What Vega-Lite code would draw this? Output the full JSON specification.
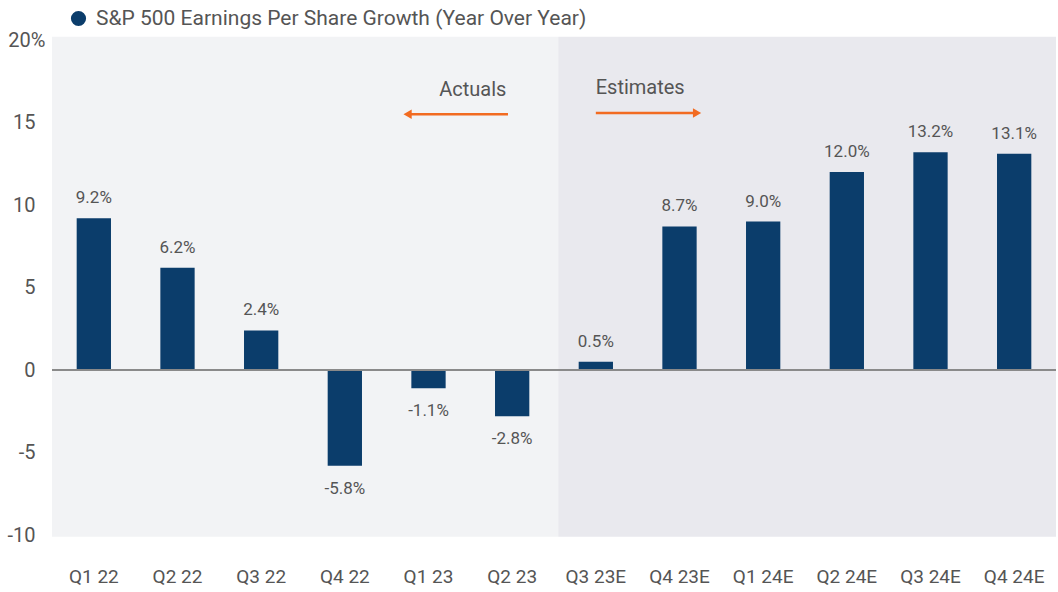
{
  "$schema": "https://vega.github.io/schema/vega-lite/v6.json",
  "width": 1004,
  "height": 495,
  "autosize": {"type": "none"},
  "padding": {"left": 52, "top": 40, "right": 2, "bottom": 57},
  "background": "#ffffff",
  "config": {"font": "Roboto", "view": {"stroke": null}},
  "datasets": {
    "eps": [
      {"quarter": "Q1 22", "value": 9.2, "label": "9.2%", "series": "S&P 500 Earnings Per Share Growth (Year Over Year)"},
      {"quarter": "Q2 22", "value": 6.2, "label": "6.2%", "series": "S&P 500 Earnings Per Share Growth (Year Over Year)"},
      {"quarter": "Q3 22", "value": 2.4, "label": "2.4%", "series": "S&P 500 Earnings Per Share Growth (Year Over Year)"},
      {"quarter": "Q4 22", "value": -5.8, "label": "-5.8%", "series": "S&P 500 Earnings Per Share Growth (Year Over Year)"},
      {"quarter": "Q1 23", "value": -1.1, "label": "-1.1%", "series": "S&P 500 Earnings Per Share Growth (Year Over Year)"},
      {"quarter": "Q2 23", "value": -2.8, "label": "-2.8%", "series": "S&P 500 Earnings Per Share Growth (Year Over Year)"},
      {"quarter": "Q3 23E", "value": 0.5, "label": "0.5%", "series": "S&P 500 Earnings Per Share Growth (Year Over Year)"},
      {"quarter": "Q4 23E", "value": 8.7, "label": "8.7%", "series": "S&P 500 Earnings Per Share Growth (Year Over Year)"},
      {"quarter": "Q1 24E", "value": 9.0, "label": "9.0%", "series": "S&P 500 Earnings Per Share Growth (Year Over Year)"},
      {"quarter": "Q2 24E", "value": 12.0, "label": "12.0%", "series": "S&P 500 Earnings Per Share Growth (Year Over Year)"},
      {"quarter": "Q3 24E", "value": 13.2, "label": "13.2%", "series": "S&P 500 Earnings Per Share Growth (Year Over Year)"},
      {"quarter": "Q4 24E", "value": 13.1, "label": "13.1%", "series": "S&P 500 Earnings Per Share Growth (Year Over Year)"}
    ],
    "regions": [
      {"region": "Actuals", "start": 0, "end": 6.05, "low": -10.1, "high": 20.2},
      {"region": "Estimates", "start": 6.05, "end": 12, "low": -10.1, "high": 20.2}
    ],
    "notes": [
      {"text": "Actuals", "x": 5.03, "y": 17.0},
      {"text": "Estimates", "x": 7.03, "y": 17.1}
    ],
    "arrows": [
      {"name": "Actuals", "from": 4.25, "to": 5.45, "y": 15.5, "head": 4.25, "shape": "triangle-left"},
      {"name": "Estimates", "from": 6.5, "to": 7.71, "y": 15.58, "head": 7.71, "shape": "triangle-right"}
    ]
  },
  "resolve": {"scale": {"x": "independent"}, "axis": {"x": "independent"}},
  "layer": [
    {
      "data": {"name": "regions"},
      "mark": {"type": "rect"},
      "encoding": {
        "x": {"field": "start", "type": "quantitative", "scale": {"domain": [0, 12], "nice": false, "zero": false}, "axis": null},
        "x2": {"field": "end"},
        "y": {"field": "low", "type": "quantitative", "title": null, "scale": {"domain": [-10, 20], "nice": false}},
        "y2": {"field": "high"},
        "fill": {"field": "region", "type": "nominal", "scale": {"domain": ["Actuals", "Estimates"], "range": ["#f2f3f5", "#e9e9ee"]}, "legend": null}
      }
    },
    {
      "data": {"name": "eps"},
      "encoding": {
        "x": {"field": "quarter", "type": "nominal", "sort": null,
              "scale": {"paddingInner": 0.59, "paddingOuter": 0.295},
              "axis": {"title": null, "labelAngle": 0, "labelFontSize": 19, "labelColor": "#555555", "domain": false, "ticks": false, "labelPadding": 32}}
      },
      "layer": [
        {
          "mark": {"type": "bar"},
          "encoding": {
            "y": {"field": "value", "type": "quantitative", "title": null, "scale": {"domain": [-10, 20], "nice": false},
                  "axis": {"title": null, "values": [-10, -5, 0, 5, 10, 15, 20], "grid": false, "domain": false, "ticks": false,
                           "labelFontSize": 20, "labelColor": "#555555",
                           "labelExpr": "datum.value == 20 ? '20%' : replace(datum.label, '\u2212', '-')",
                           "labelPadding": {"condition": {"test": "datum.value == 20", "value": 7}, "value": 17}}},
            "color": {"field": "series", "type": "nominal", "scale": {"range": ["#0b3d6b"]},
                      "legend": {"orient": "none", "legendX": 16, "legendY": -32, "title": null, "padding": 0,
                                 "labelFontSize": 21, "labelColor": "#555555", "symbolType": "circle", "symbolSize": 230,
                                 "labelLimit": 0, "labelOffset": 7}}
          }
        },
        {
          "mark": {"type": "rule", "color": "#8a8a8a", "strokeWidth": 1.5},
          "encoding": {"x": null, "y": {"datum": 0, "type": "quantitative", "title": null, "scale": {"domain": [-10, 20], "nice": false}}}
        },
        {
          "transform": [{"filter": "datum.value >= 0"}],
          "mark": {"type": "text", "fontSize": 17, "color": "#555555", "baseline": "middle", "dy": -20},
          "encoding": {
            "y": {"field": "value", "type": "quantitative", "title": null, "scale": {"domain": [-10, 20], "nice": false}},
            "text": {"field": "label"}
          }
        },
        {
          "transform": [{"filter": "datum.value < 0"}],
          "mark": {"type": "text", "fontSize": 17, "color": "#555555", "baseline": "middle", "dy": 23},
          "encoding": {
            "y": {"field": "value", "type": "quantitative", "title": null, "scale": {"domain": [-10, 20], "nice": false}},
            "text": {"field": "label"}
          }
        }
      ]
    },
    {
      "layer": [
        {
          "data": {"name": "notes"},
          "mark": {"type": "text", "fontSize": 20, "color": "#555555", "baseline": "middle", "align": "center"},
          "encoding": {
            "x": {"field": "x", "type": "quantitative", "scale": {"domain": [0, 12], "nice": false, "zero": false}, "axis": null},
            "y": {"field": "y", "type": "quantitative", "title": null, "scale": {"domain": [-10, 20], "nice": false}},
            "text": {"field": "text"}
          }
        },
        {
          "data": {"name": "arrows"},
          "mark": {"type": "rule", "color": "#f26b21", "strokeWidth": 2.5},
          "encoding": {
            "x": {"field": "from", "type": "quantitative", "scale": {"domain": [0, 12], "nice": false, "zero": false}, "axis": null},
            "x2": {"field": "to"},
            "y": {"field": "y", "type": "quantitative", "title": null, "scale": {"domain": [-10, 20], "nice": false}}
          }
        },
        {
          "data": {"name": "arrows"},
          "mark": {"type": "point", "filled": true, "color": "#f26b21", "opacity": 1, "size": 90},
          "encoding": {
            "x": {"field": "head", "type": "quantitative", "scale": {"domain": [0, 12], "nice": false, "zero": false}, "axis": null},
            "y": {"field": "y", "type": "quantitative", "title": null, "scale": {"domain": [-10, 20], "nice": false}},
            "shape": {"field": "shape", "type": "nominal", "scale": {"domain": ["triangle-left", "triangle-right"], "range": ["triangle-left", "triangle-right"]}, "legend": null}
          }
        }
      ]
    }
  ]
}
